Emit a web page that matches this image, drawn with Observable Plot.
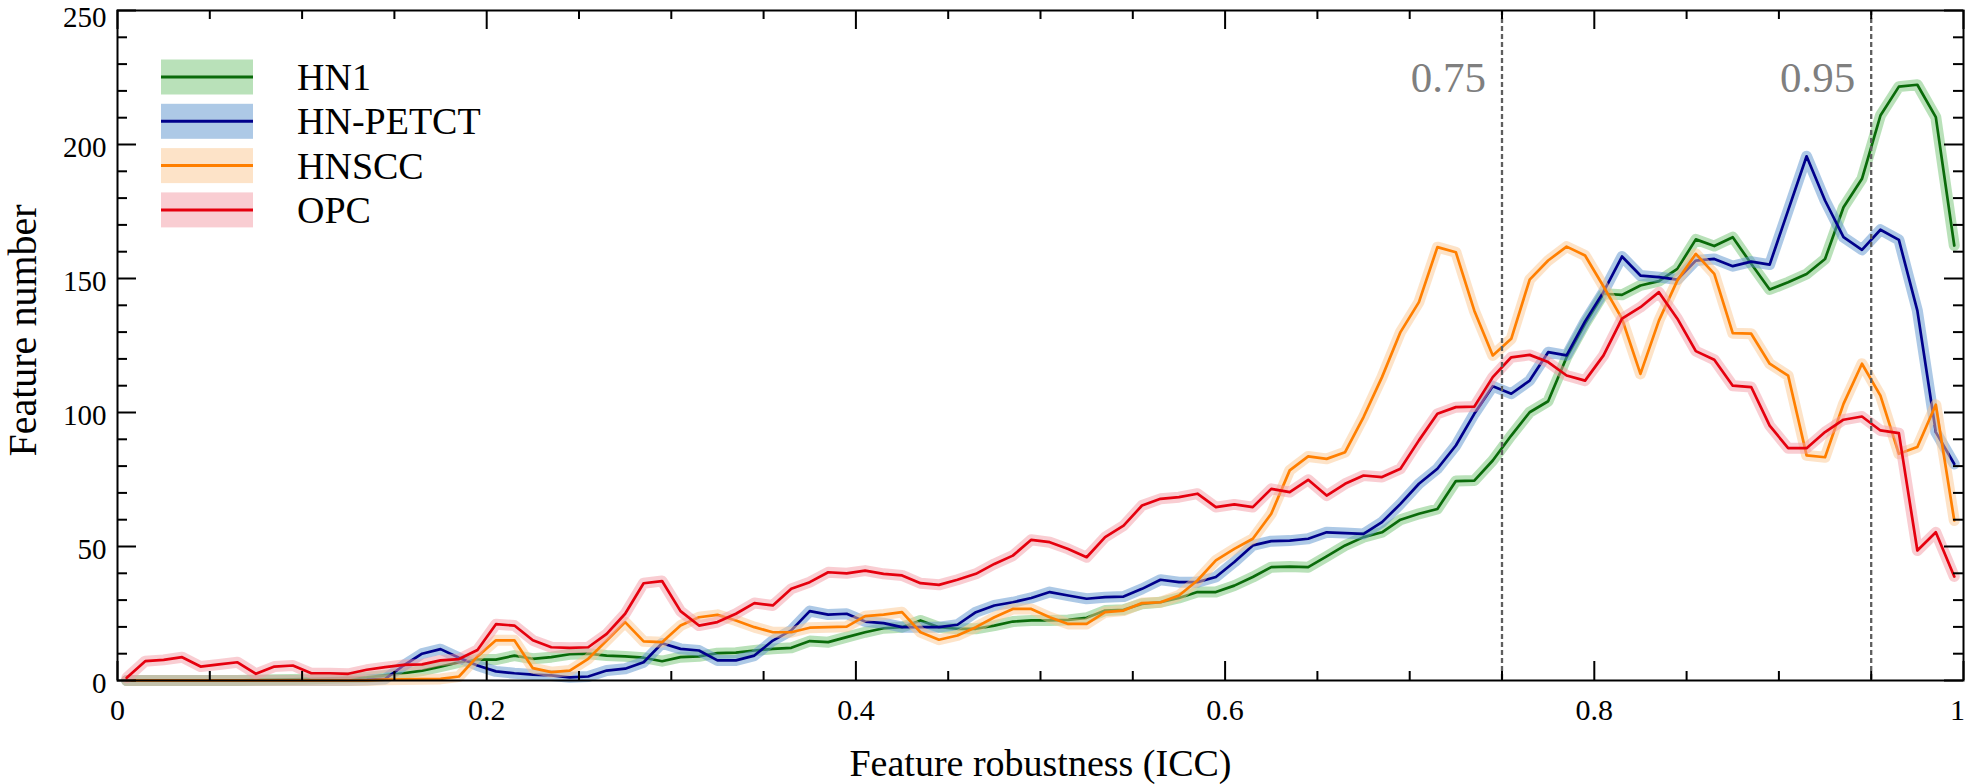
<!DOCTYPE html>
<html><head><meta charset="utf-8">
<script src="https://cdn.jsdelivr.net/npm/d3@7"></script>
<script src="https://cdn.jsdelivr.net/npm/@observablehq/plot@0.6"></script>
<style>
html,body{margin:0;padding:0;background:#fff;}
#wrap{position:relative;width:1969px;height:784px;overflow:hidden;}
#legend{position:absolute;left:0;top:0;pointer-events:none;}
</style></head>
<body><div id="wrap"></div>
<script>
const FONT = "'Liberation Serif', 'DejaVu Serif', 'Noto Serif', Tinos, 'Times New Roman', Times, serif";

// ---- data ----
const series = ["HN1", "HN-PETCT", "HNSCC", "OPC"];
const lineColors = ["#0a6b0a", "#00008b", "#ff7f00", "#e5000e"];
const bandColors = ["#73c373", "#5b93cd", "#fbc791", "#f39ba5"];

const icc = [0.005,0.015,0.025,0.035,0.045,0.055,0.065,0.075,0.085,0.095,
0.105,0.115,0.125,0.135,0.145,0.155,0.165,0.175,0.185,0.195,
0.205,0.215,0.225,0.235,0.245,0.255,0.265,0.275,0.285,0.295,
0.305,0.315,0.325,0.335,0.345,0.355,0.365,0.375,0.385,0.395,
0.405,0.415,0.425,0.435,0.445,0.455,0.465,0.475,0.485,0.495,
0.505,0.515,0.525,0.535,0.545,0.555,0.565,0.575,0.585,0.595,
0.605,0.615,0.625,0.635,0.645,0.655,0.665,0.675,0.685,0.695,
0.705,0.715,0.725,0.735,0.745,0.755,0.765,0.775,0.785,0.795,
0.805,0.815,0.825,0.835,0.845,0.855,0.865,0.875,0.885,0.895,
0.905,0.915,0.925,0.935,0.945,0.955,0.965,0.975,0.985,0.995];

const hn1 = [0,0,0,0,0,0,0,0.2,0.3,0.4,
0.6,0.8,1,1.2,1.9,2.7,3.7,5.2,6.8,7.8,
7.8,9.3,8.1,8.7,9.8,10,9.3,9,8.5,7.2,
8.7,9,10.2,10.4,11.2,11.8,12.2,14.7,14.3,16.2,
18,19.5,19.9,22.4,19.9,19.3,19.3,20.5,22,22.4,
22.4,22.6,23.4,26.1,26.4,28.6,29.2,30.8,33,33,
35.4,38.6,42.3,42.5,42.3,46.3,50.4,53.5,55.3,60,
62.2,64,74.4,74.6,82.1,91.4,100.1,104.2,120.6,133.1,
144.3,143.9,147.4,149,153.6,164.6,162.1,165.4,155.5,145.9,
148.6,151.7,157.3,176.6,187.2,210.8,221.6,222.3,210.2,162.3];

const hnpetct = [0,0,0,0,0,0,0,0,0,0,
0,0,0,0.2,0.6,5.6,10,11.7,8.5,5.6,
3.4,2.7,2.2,1.9,1.2,1.5,3.7,4.4,6.8,13.9,
11.8,11.2,7.5,7.5,9.3,14.9,18.7,25.9,24.6,24.9,
22,21.4,19.9,19.9,19.9,20.8,25.5,28,29.2,30.8,
33,31.7,30.5,31.1,31.3,34.2,37.6,36.7,36.7,38.6,
44.2,50.4,52,52.2,52.9,55.3,55,54.7,59.1,65.9,
73.4,79,87.7,99.5,109.8,107,111.9,122.5,121.3,134,
145,158.2,151.1,150.5,149.6,156.7,157.3,154.6,156.3,155.2,
175.4,195.6,179.1,165.4,160.7,168.2,164.4,138,92.7,80.8];

const hnscc = [0,0,0,0,0,0,0,0,0,0,
0,0,0,0,0.3,0.4,0.5,0.6,1.5,9,
15,15,4.6,3.1,3.7,8.1,14.9,21.8,14.6,14.3,
20.5,23.6,24.5,22.4,19.9,18,18,19.7,19.9,20.1,
24,24.6,25.5,18,15.2,16.8,19.9,23.6,26.7,26.7,
23.6,21.1,21.1,25.5,26.1,28.9,29.2,31.7,37.3,44.8,
49.1,52.9,62.2,78.4,83.6,82.7,85.2,98.3,113.2,130,
141.2,161.7,159.8,138,121.3,127.5,149.6,156.7,161.9,158.6,
147,135,114.4,134.3,149.3,159.2,151.7,129.6,129.4,118.2,
113.8,84,83.3,103.2,118.2,106.3,84.6,87.1,102.9,59.7];

const opc = [1,7.2,7.7,8.7,5.2,6,6.8,2.5,5.2,5.6,
2.7,2.7,2.5,4,5,5.8,6,7.5,8,11.4,
21,20.5,15,12.4,12.2,12.4,17.4,24.9,36.3,37.1,
25.9,20.5,21.8,24.9,28.9,28,34.2,36.7,40.4,40,
41,39.8,39.2,36.3,35.7,37.6,39.8,43.5,46.6,52.5,
51.6,49.1,46,53.5,57.8,65.3,67.8,68.4,69.7,64.7,
65.7,64.7,71.5,70.3,74.9,69,73.4,76.5,75.9,79,
89.6,99.5,102,102.2,113.2,120.6,121.5,118.8,113.8,111.9,
121.3,135,139.3,144.9,135,122.9,119.7,110,109.5,95.1,
86.7,86.7,92.7,97.3,98.5,93.3,92.3,48.5,55.3,38.8];

const thresholds = [0.75, 0.95];
const xMajor = [0, 0.2, 0.4, 0.6, 0.8, 1];
const xLabels = [0, 0.2, 0.4, 0.6, 0.8];
const xLast = [1];
const xMinor = [0.05,0.1,0.15,0.25,0.3,0.35,0.45,0.5,0.55,0.65,0.7,0.75,0.85,0.9,0.95];
const yMajor = [0, 50, 100, 150, 200, 250];
const yLabels = [0, 50, 100, 150, 200];
const yTop = [250];
const yMinor = [10,20,30,40,60,70,80,90,110,120,130,140,160,170,180,190,210,220,230,240];

const values = [hn1, hnpetct, hnscc, opc];

// ---- layout ----
const W = 1969, H = 784, ML = 117, MR = 6, MT = 10, MB = 104;
const innerW = W - ML - MR, innerH = H - MT - MB;

const marks = [];
series.forEach((s, k) => {
  const d = icc.map((x, i) => ({series: s, x, y: values[k][i]}));
  marks.push(Plot.line(d, {x: "x", y: "y", stroke: bandColors[k], strokeOpacity: 0.5, strokeWidth: 11}));
  marks.push(Plot.line(d, {x: "x", y: "y", stroke: lineColors[k], strokeWidth: 2.7}));
});

marks.push(Plot.ruleX(thresholds, {x: d => d, stroke: "#5e5e5e", strokeWidth: 2.3, strokeDasharray: "5,3"}));
marks.push(Plot.text(thresholds, {x: d => d, text: d => d.toFixed(2), frameAnchor: "top", textAnchor: "end",
  lineAnchor: "middle", dx: -16, dy: 68, fontSize: 43, fill: "#7f7f7f"}));

marks.push(Plot.frame({stroke: "black", strokeWidth: 2}));
const tk = {stroke: "black", strokeWidth: 2};
marks.push(Plot.tickX(xMinor, {x: d => d, insetTop: innerH - 9, ...tk}));
marks.push(Plot.tickX(xMajor, {x: d => d, insetTop: innerH - 19, ...tk}));
marks.push(Plot.tickX(xMinor, {x: d => d, insetBottom: innerH - 9, ...tk}));
marks.push(Plot.tickX(xMajor, {x: d => d, insetBottom: innerH - 19, ...tk}));
marks.push(Plot.tickY(yMinor, {y: d => d, insetRight: innerW - 10, ...tk}));
marks.push(Plot.tickY(yMajor, {y: d => d, insetRight: innerW - 19, ...tk}));
marks.push(Plot.tickY(yMinor, {y: d => d, insetLeft: innerW - 10, ...tk}));
marks.push(Plot.tickY(yMajor, {y: d => d, insetLeft: innerW - 19, ...tk}));

marks.push(Plot.axisX(xLabels, {tickSize: 0, tickPadding: 18, tickFormat: d => String(d), fontSize: 30, label: null}));
marks.push(Plot.axisX(xLast, {tickSize: 0, tickPadding: 18, tickFormat: d => String(d), fontSize: 30, label: null, dx: -6}));
marks.push(Plot.axisY(yLabels, {tickSize: 0, tickPadding: 11, tickFormat: d => String(d), fontSize: 29, label: null, dy: 3}));
marks.push(Plot.axisY(yTop, {tickSize: 0, tickPadding: 11, tickFormat: d => String(d), fontSize: 29, label: null, dy: 7}));

marks.push(Plot.text(["Feature robustness (ICC)"], {frameAnchor: "bottom", textAnchor: "middle", lineAnchor: "middle",
  dy: 83, fontSize: 38, fill: "black"}));
marks.push(Plot.text(["Feature number"], {frameAnchor: "left", textAnchor: "middle", lineAnchor: "middle",
  dx: -94, dy: -15, rotate: -90, fontSize: 40, fill: "black"}));

const chart = Plot.plot({
  width: W, height: H,
  marginLeft: ML, marginRight: MR, marginTop: MT, marginBottom: MB,
  x: {domain: [0, 1], axis: null},
  y: {domain: [0, 250], axis: null},
  style: {fontFamily: FONT, fontSize: "30px", color: "black", background: "white", overflow: "visible"},
  marks
});
const wrap = document.getElementById("wrap");
wrap.appendChild(chart);

// ---- legend overlay ----
const leg = d3.select(wrap).append("svg").attr("id", "legend")
  .attr("width", W).attr("height", H);
const rowsG = leg.selectAll("g").data(series).join("g")
  .attr("transform", (d, k) => `translate(161,${77 + k * 44.3})`);
rowsG.append("rect").attr("x", 0).attr("y", -17.5).attr("width", 92).attr("height", 35)
  .attr("fill", (d, k) => bandColors[k]).attr("fill-opacity", 0.5);
rowsG.append("line").attr("x1", 0).attr("x2", 92).attr("y1", 0).attr("y2", 0)
  .attr("stroke", (d, k) => lineColors[k]).attr("stroke-width", 3);
rowsG.append("text").attr("x", 136).attr("y", 0).attr("dy", "0.34em")
  .style("font-family", FONT).attr("font-size", 38).attr("fill", "black").text(d => d);
</script>
</body></html>
